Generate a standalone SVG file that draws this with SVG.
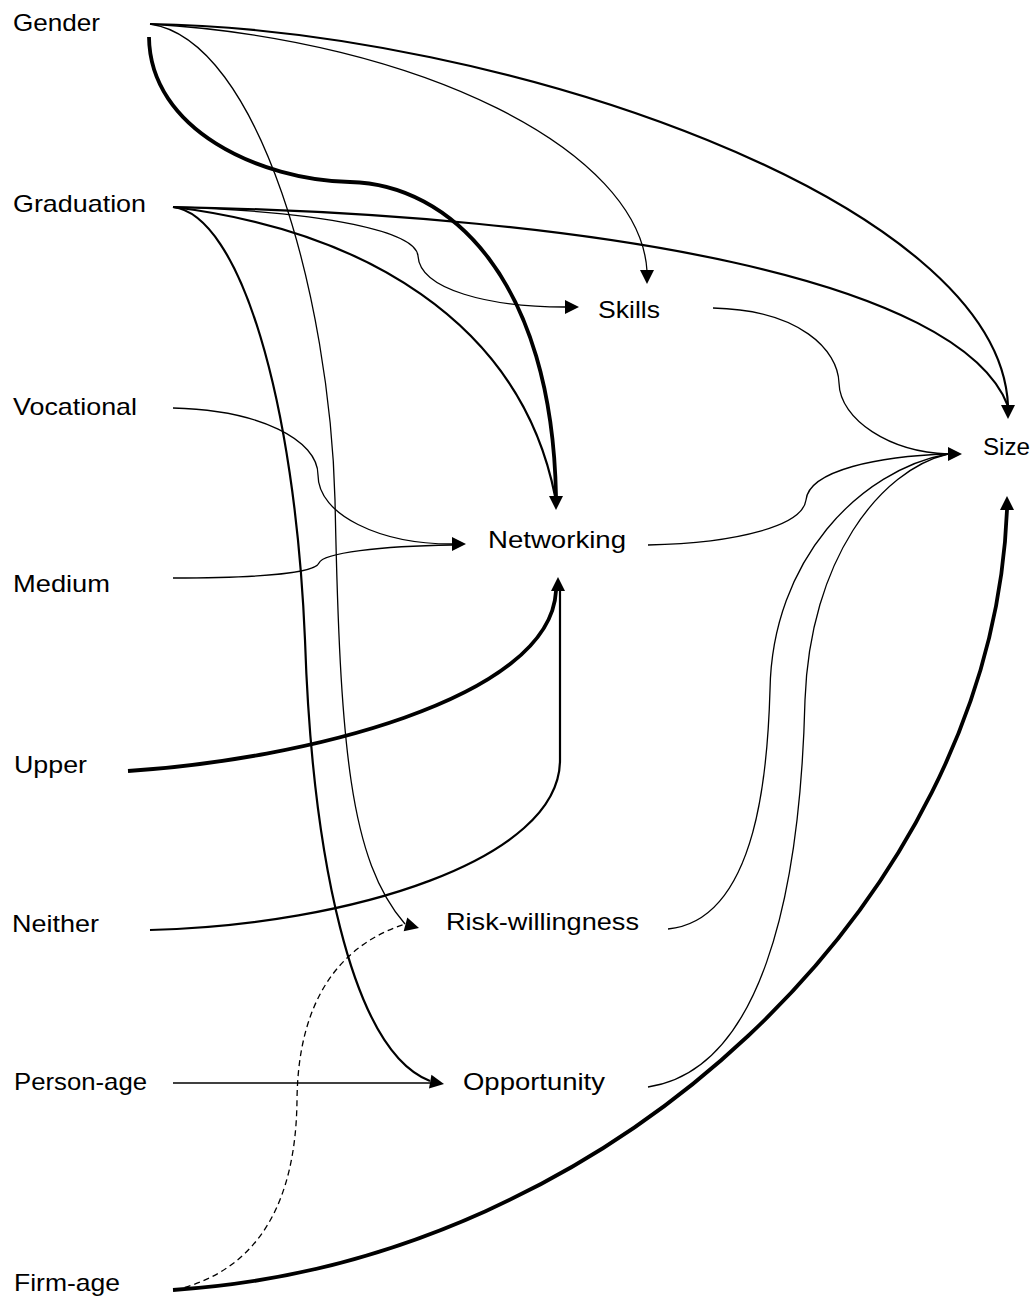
<svg xmlns="http://www.w3.org/2000/svg" width="1035" height="1298" viewBox="0 0 1035 1298">
<style>
.lbl{font-family:"Liberation Sans",Arial,sans-serif;font-size:24px;fill:#000}
.e{fill:none;stroke:#000;stroke-linecap:butt}
.t1{stroke-width:1.3}
.t2{stroke-width:2.2}
.t3{stroke-width:3.8}
.dash{stroke-dasharray:6 4}
.ah{fill:#000;stroke:none}
</style>
<defs>
<path id="arr" d="M0,0 L-14,-7 L-14,7 Z"/>
</defs>
<rect width="1035" height="1298" fill="#fff"/>
<g id="connectors">
<path class="e t2" d="M150,24 C 500,30 1000,200 1008,406"/>
<path class="e t2" d="M173,207 C 600,215 960,280 1008,406"/>
<path class="e t1" d="M150,24 C 420,40 640,150 647,271"/>
<path class="e t1" d="M150,24 C 260,40 330,300 335,500 C 340,750 350,860 405,924"/>
<path class="e t3" d="M149,37 C 150,130 260,180 350,182 C 450,184 552,280 556,496"/>
<path class="e t1" d="M173,207 C 330,212 416,232 418,256 C 420,290 490,307 565,307"/>
<path class="e t2" d="M173,207 C 360,230 520,320 555,496"/>
<path class="e t2" d="M173,207 C 240,215 295,400 305,640 C 312,850 350,1050 430,1081"/>
<path class="e t1" d="M173,408 C 260,410 318,440 318,475 C 318,515 380,544 452,544"/>
<path class="e t1" d="M173,578 C 260,578 315,573 319,563 C 323,553 380,546 452,545"/>
<path class="e t3" d="M128,771 C 300,760 550,700 556,591"/>
<path class="e t2" d="M150,930 C 350,925 560,860 560,760 L 560,591"/>
<path class="e t1" d="M173,1083 L 430,1083"/>
<path class="e t1 dash" d="M175,1290 C 260,1270 296,1200 297,1100 C 298,1000 340,945 405,924"/>
<path class="e t3" d="M173,1290 C 610,1262 992,900 1007,510"/>
<path class="e t1" d="M713,308 C 800,310 838,350 839,383 C 840,420 890,452 948,454"/>
<path class="e t1" d="M648,545 C 740,543 803,525 806,500 C 809,470 880,456 948,454"/>
<path class="e t1" d="M668,929 C 760,920 768,760 770,690 C 772,560 860,470 948,454"/>
<path class="e t1" d="M648,1087 C 760,1070 800,900 805,700 C 810,560 880,470 948,454"/>
<use href="#arr" class="ah" transform="translate(1008,419) rotate(90)"/>
<use href="#arr" class="ah" transform="translate(647,284) rotate(90)"/>
<use href="#arr" class="ah" transform="translate(579,307)"/>
<use href="#arr" class="ah" transform="translate(556,510) rotate(90)"/>
<use href="#arr" class="ah" transform="translate(466,544)"/>
<use href="#arr" class="ah" transform="translate(558,577) rotate(-90)"/>
<use href="#arr" class="ah" transform="translate(962,454)"/>
<use href="#arr" class="ah" transform="translate(1007,496) rotate(-90)"/>
<use href="#arr" class="ah" transform="translate(419,928) rotate(15)"/>
<use href="#arr" class="ah" transform="translate(444,1084) rotate(10)"/>
</g>
<g id="node-gender"><text class="lbl" x="13" y="31" textLength="87" lengthAdjust="spacingAndGlyphs">Gender</text></g>
<g id="node-graduation"><text class="lbl" x="13" y="212" textLength="133" lengthAdjust="spacingAndGlyphs">Graduation</text></g>
<g id="node-vocational"><text class="lbl" x="13" y="415" textLength="124" lengthAdjust="spacingAndGlyphs">Vocational</text></g>
<g id="node-medium"><text class="lbl" x="13" y="592" textLength="97" lengthAdjust="spacingAndGlyphs">Medium</text></g>
<g id="node-upper"><text class="lbl" x="14" y="773" textLength="73" lengthAdjust="spacingAndGlyphs">Upper</text></g>
<g id="node-neither"><text class="lbl" x="12" y="932" textLength="87" lengthAdjust="spacingAndGlyphs">Neither</text></g>
<g id="node-person-age"><text class="lbl" x="14" y="1090" textLength="133" lengthAdjust="spacingAndGlyphs">Person-age</text></g>
<g id="node-firm-age"><text class="lbl" x="14" y="1291" textLength="106" lengthAdjust="spacingAndGlyphs">Firm-age</text></g>
<g id="node-skills"><text class="lbl" x="598" y="318" textLength="62" lengthAdjust="spacingAndGlyphs">Skills</text></g>
<g id="node-size"><text class="lbl" x="983" y="455" textLength="47" lengthAdjust="spacingAndGlyphs">Size</text></g>
<g id="node-networking"><text class="lbl" x="488" y="548" textLength="138" lengthAdjust="spacingAndGlyphs">Networking</text></g>
<g id="node-risk"><text class="lbl" x="446" y="930" textLength="193" lengthAdjust="spacingAndGlyphs">Risk-willingness</text></g>
<g id="node-opportunity"><text class="lbl" x="463" y="1090" textLength="142" lengthAdjust="spacingAndGlyphs">Opportunity</text></g>
</svg>
